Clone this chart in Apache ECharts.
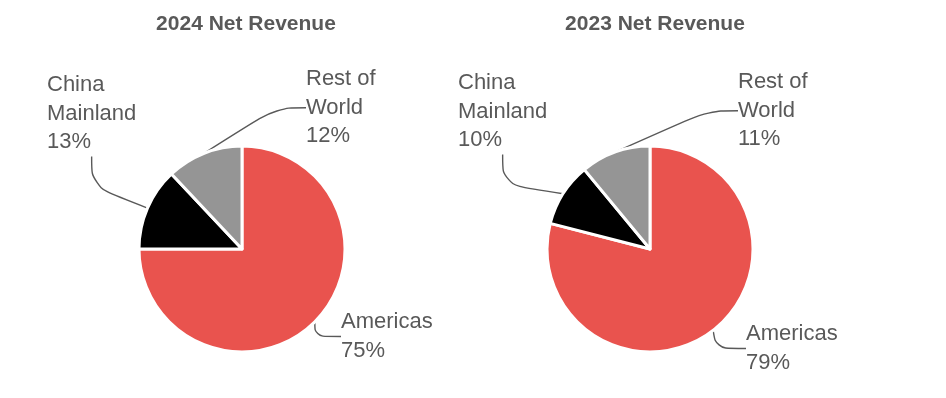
<!DOCTYPE html>
<html>
<head>
<meta charset="utf-8">
<script src="https://cdn.jsdelivr.net/npm/echarts@6/dist/echarts.min.js"></script>
<style>
  html, body { margin: 0; padding: 0; background: #fff; }
  #main { width: 946px; height: 398px; }
</style>
</head>
<body>
<div id="main"></div>
<script>
// regions, in drawing order (clockwise from 12 o'clock)
var regions = ['Americas', 'China Mainland', 'Rest of World'];
var regionLabels = ['Americas', 'China\nMainland', 'Rest of\nWorld'];
var share2024 = [75, 13, 12];
var share2023 = [79, 10, 11];
var titles = ['2024 Net Revenue', '2023 Net Revenue'];

var colors = ['#E9534E', '#000000', '#959595'];
var textColor = '#595959';
var font = 'Liberation Sans, Arial, sans-serif';

// label top-left positions per pie (layout only)
var labelPos = [
    [[341, 308], [47, 71], [306, 65]],
    [[746, 320], [458, 69], [738, 68]]
];

function buildData(values) {
    return values.map(function (v, i) {
        return { name: regions[i], value: v, itemStyle: { color: colors[i] } };
    });
}

function pieSeries(values, center, idx) {
    return {
        type: 'pie',
        center: center,
        radius: 103,
        startAngle: 90,
        clockwise: true,
        animation: false,
        silent: true,
        data: buildData(values),
        itemStyle: { borderColor: '#fff', borderWidth: 3 },
        label: {
            show: true,
            color: textColor,
            fontFamily: font,
            fontSize: 22,
            lineHeight: 28.5,
            overflow: 'none',
            edgeDistance: 0,
            bleedMargin: 0,
            formatter: function (p) {
                return regionLabels[p.dataIndex] + '\n' + p.value + '%';
            }
        },
        labelLine: {
            show: true,
            smooth: 0.4,
            lineStyle: { color: '#595959', width: 1.4 }
        },
        labelLayout: function (p) {
            var pos = labelPos[idx][p.dataIndex];
            return { x: pos[0], y: pos[1], align: 'left', verticalAlign: 'top' };
        }
    };
}

var myChart = echarts.init(document.getElementById('main'));
var option = {
    backgroundColor: '#fff',
    title: [
        { text: titles[0], left: 241, top: 9, textAlign: 'center',
          textStyle: { color: textColor, fontFamily: font, fontWeight: 'bold', fontSize: 21 } },
        { text: titles[1], left: 650, top: 9, textAlign: 'center',
          textStyle: { color: textColor, fontFamily: font, fontWeight: 'bold', fontSize: 21 } }
    ],
    series: [
        pieSeries(share2024, [242, 249], 0),
        pieSeries(share2023, [650, 249], 1)
    ]
};
myChart.setOption(option);
</script>
</body>
</html>
